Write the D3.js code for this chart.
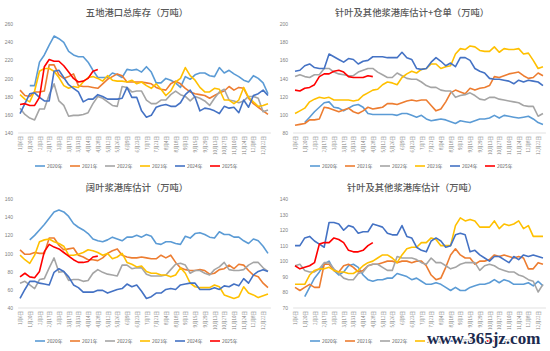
<!DOCTYPE html>
<html>
<head>
<meta charset="utf-8">
<script src="https://cdn.jsdelivr.net/npm/d3@7"></script>
<style>
  body { margin: 0; background: #fff; }
  svg { display: block; }
  text { font-family: "Noto Sans CJK SC", "Noto Sans", sans-serif; }
</style>
</head>
<body>
<div id="chart"></div>
<script>
// weekly dates, labels shown every 2 weeks
const dates = ["1月6日","1月13日","1月20日","1月27日","2月3日","2月10日","2月17日","2月24日","3月3日","3月10日",
  "3月17日","3月24日","3月31日","4月7日","4月14日","4月21日","4月28日","5月5日","5月12日","5月19日",
  "5月26日","6月2日","6月9日","6月16日","6月23日","6月30日","7月7日","7月14日","7月21日","7月28日",
  "8月4日","8月11日","8月18日","8月25日","9月1日","9月8日","9月15日","9月22日","9月29日","10月6日",
  "10月13日","10月20日","10月27日","11月3日","11月10日","11月17日","11月24日","12月1日","12月8日","12月15日",
  "12月22日","12月29日"];
const years = ["2020年","2021年","2022年","2023年","2024年","2025年"];
const colors = ["#5B9BD5","#ED7D31","#A5A5A5","#FFC000","#4472C4","#FF0000"];
const _ = null;

// 五地港口总库存
const totalInv2020 = [_,_,192,192,218,226,237,247,244,240,230,226,224,224,218,209,201,201,201,206,204,201,210,209,210,207,213,207,195,195,200,198,195,190,202,199,204,206,206,203,202,212,206,209,205,202,198,196,203,200,195,183];
const totalInv2021 = [187,181,180,185,185,186,215,215,204,200,202,205,192,191,191,190,189,194,199,202,205,203,196,196,196,196,195,194,190,188,187,194,197,194,189,185,183,182,181,178,181,184,186,191,187,190,189,178,172,168,164,160];
const totalInv2022 = [167,160,156,154,166,166,182,194,175,170,158,159,159,160,162,172,180,178,174,170,169,191,190,185,186,186,176,172,172,176,176,182,186,182,180,175,180,178,175,170,178,185,188,176,175,173,175,180,180,178,163,165];
const totalInv2023 = [182,177,174,186,208,211,211,208,201,192,189,191,190,196,201,202,200,197,203,198,197,197,196,198,194,196,192,189,194,188,181,186,196,200,212,203,198,190,185,185,189,188,176,176,172,176,190,179,174,169,170,172];
const totalInv2024 = [161,172,183,184,179,175,175,208,209,201,193,189,185,174,177,177,182,180,177,177,177,178,190,179,179,164,157,159,168,170,171,169,169,173,182,187,179,164,167,166,164,161,169,167,168,162,176,168,181,183,187,181];
const totalInv2025 = [171,172,170,170,179,213,221,219,219,214,207,200,196,197,200,208,210];

// 针叶及其他浆港库估计+仓单
const softWr2020 = [_,_,91,97,103,108,113,114,108,107,104,107,110,111,108,101,100,100,100,100,100,99,101,101,99,97,99,95,93,94,95,94,92,90,93,92,91,93,95,95,96,99,96,99,98,97,96,97,98,95,91,89];
const softWr2021 = [88,89,90,94,94,95,108,107,105,103,105,107,103,101,104,108,106,107,108,112,112,111,113,115,116,115,116,116,110,104,106,114,124,127,125,123,129,127,129,130,132,142,141,143,145,146,147,143,140,141,146,143];
const softWr2022 = [142,144,142,141,144,144,151,151,147,145,144,143,143,147,149,151,151,147,144,141,141,146,143,140,139,139,136,132,130,130,127,126,126,119,121,122,124,121,117,116,119,119,117,116,115,114,113,110,109,109,98,101];
const softWr2023 = [101,104,107,114,117,119,118,119,116,116,116,116,115,116,121,124,127,128,133,136,135,133,141,145,148,146,150,151,156,156,151,153,154,167,173,172,176,175,171,170,170,175,169,173,172,172,173,167,168,160,151,153];
const softWr2024 = [148,149,154,156,152,151,151,167,164,161,158,162,161,156,159,160,164,164,164,163,163,163,169,163,161,151,150,151,158,163,159,154,157,153,163,163,160,151,148,146,140,139,139,138,137,134,138,136,138,137,136,132];
const softWr2025 = [127,126,129,130,133,142,145,145,148,149,147,142,141,141,141,143,142];

// 阔叶浆港库估计
const hardInv2020 = [_,_,115,120,126,132,139,146,148,146,141,133,129,126,122,116,114,113,115,118,116,114,118,118,120,118,121,119,111,110,113,113,111,110,119,117,122,123,121,118,117,124,121,121,118,118,114,111,116,114,108,100];
const hardInv2021 = [104,99,99,101,100,100,117,117,109,104,105,106,98,96,93,93,92,95,100,103,105,98,96,95,95,96,95,94,94,98,95,98,90,84,82,81,81,82,81,77,78,82,83,87,83,88,87,81,76,74,67,62];
const hardInv2022 = [67,69,65,61,71,72,84,95,79,80,70,71,71,69,70,78,82,79,77,76,75,87,87,83,84,84,77,75,75,75,76,82,88,89,87,78,81,81,78,76,82,85,90,82,81,81,82,87,90,90,84,80];
const hardInv2023 = [98,93,89,98,113,115,116,113,111,108,98,98,99,101,104,103,101,98,100,94,96,100,90,88,85,86,80,78,78,76,76,74,76,84,78,67,63,62,62,62,65,63,54,52,50,52,63,56,54,51,53,55];
const hardInv2024 = [50,60,69,69,67,66,65,79,83,80,74,65,62,57,57,57,59,59,56,58,60,61,66,63,65,58,50,52,56,56,60,61,60,65,66,67,67,60,60,60,62,60,64,63,66,64,72,67,76,80,82,80];
const hardInv2025 = [74,78,74,73,80,102,110,107,105,101,97,93,90,90,91,96,97];

// 针叶及其他浆港库估计
const softInv2020 = [_,_,77,83,89,93,98,100,94,91,93,97,98,96,91,88,87,88,88,89,89,92,91,90,88,89,87,85,85,86,85,83,81,83,81,81,83,84,85,85,86,88,86,88,87,85,85,85,86,84,87,84];
const softInv2021 = [83,81,83,85,83,83,98,98,94,93,97,98,96,93,94,97,98,98,99,100,100,99,100,100,99,100,100,97,91,88,89,96,104,108,104,102,102,98,100,100,101,104,103,104,103,102,103,102,95,95,99,98];
const softInv2022 = [97,98,94,93,93,95,99,99,95,92,89,88,88,92,93,97,98,98,96,94,94,103,102,102,102,101,99,98,102,99,99,97,95,96,98,99,99,99,94,97,98,97,95,94,93,93,91,90,88,87,80,85];
const softInv2023 = [85,85,85,91,94,95,95,96,94,93,93,92,92,94,97,99,100,102,104,104,102,99,104,108,109,109,112,112,115,114,110,110,110,123,128,126,127,126,122,122,122,126,121,124,123,124,126,121,123,116,116,116];
const softInv2024 = [110,110,115,116,113,111,109,125,125,124,120,123,122,118,119,119,124,123,122,118,117,117,123,116,115,109,107,106,113,115,113,109,110,117,118,117,106,107,104,102,100,103,103,101,99,103,101,104,103,104,103,102];
const softInv2025 = [97,95,96,97,99,111,112,112,115,114,112,107,106,106,107,110,112];

const ticks1 = [140,160,180,200,220,240,260];
const ticks2 = [80,100,120,140,160,180,200];
const ticks3 = [40,60,80,100,120,140,160];
const ticks4 = [70,80,90,100,110,120,130,140];

const panels = [
  { title: "五地港口总库存（万吨）", ticks: ticks1,
    series: [totalInv2020,totalInv2021,totalInv2022,totalInv2023,totalInv2024,totalInv2025] },
  { title: "针叶及其他浆港库估计+仓单（万吨）", ticks: ticks2,
    series: [softWr2020,softWr2021,softWr2022,softWr2023,softWr2024,softWr2025] },
  { title: "阔叶浆港库估计（万吨）", ticks: ticks3,
    series: [hardInv2020,hardInv2021,hardInv2022,hardInv2023,hardInv2024,hardInv2025] },
  { title: "针叶及其他浆港库估计（万吨）", ticks: ticks4,
    series: [softInv2020,softInv2021,softInv2022,softInv2023,softInv2024,softInv2025] }
];

const svg = d3.select("#chart").append("svg")
  .attr("width", 550)
  .attr("height", 351);

const pw = 275, ph = 175;

panels.forEach((p, k) => {
  const g = svg.append("g")
    .attr("transform", `translate(${(k % 2) * pw},${Math.floor(k / 2) * ph})`);

  const x = d3.scalePoint().domain(dates).range([17.6, 270.4]).padding(0.5);
  const y = d3.scaleLinear().domain(d3.extent(p.ticks)).range([132.5, 24.3]);

  // title
  g.append("text")
    .attr("x", 137).attr("y", 15.5)
    .attr("text-anchor", "middle")
    .attr("font-size", 9.3)
    .attr("font-weight", 500)
    .attr("fill", "#595959")
    .text(p.title);

  // y axis
  g.append("g")
    .attr("transform", "translate(16,0)")
    .call(d3.axisLeft(y).tickValues(p.ticks).tickSize(0).tickPadding(3))
    .call(a => a.select(".domain").remove())
    .selectAll("text")
    .attr("font-size", 5)
    .attr("fill", "#7f7f7f")
    .style("font-family", "Liberation Sans, Arial, sans-serif");

  // x axis
  const xa = g.append("g")
    .attr("transform", "translate(0,132.5)")
    .call(d3.axisBottom(x).tickValues(dates.filter((d, i) => i % 2 === 0)).tickSize(0).tickSizeOuter(0));
  xa.select(".domain").attr("stroke", "#d9d9d9").attr("stroke-width", 0.8);
  xa.selectAll("text")
    .attr("transform", "rotate(-90)")
    .attr("x", -3.5).attr("y", 0).attr("dy", "0.35em")
    .attr("text-anchor", "end")
    .attr("font-size", 4.5)
    .attr("fill", "#7f7f7f");

  // lines
  const line = d3.line()
    .defined(d => d != null)
    .x((d, i) => x(dates[i]))
    .y(d => y(d));

  g.selectAll(".series")
    .data(p.series)
    .enter()
    .append("path")
    .attr("fill", "none")
    .attr("stroke", (d, i) => colors[i])
    .attr("stroke-width", 1.6)
    .attr("stroke-linejoin", "round")
    .attr("d", d => line(d));

  // legend
  const lg = g.append("g").attr("transform", "translate(0,166)");
  years.forEach((yr, i) => {
    lg.append("line")
      .attr("x1", 35 + i * 35).attr("x2", 45 + i * 35)
      .attr("y1", 0).attr("y2", 0)
      .attr("stroke", colors[i]).attr("stroke-width", 1.6);
    lg.append("text")
      .attr("x", 47 + i * 35).attr("y", 0).attr("dy", "0.35em")
      .attr("font-size", 4.8)
      .attr("fill", "#595959")
      .text(yr);
  });
});

// watermark
svg.append("text")
  .attr("x", 427).attr("y", 344)
  .attr("font-size", 17)
  .attr("font-weight", "bold")
  .style("font-family", "Liberation Serif, serif")
  .attr("fill", "#1b2a4e")
  .attr("stroke", "#fff")
  .attr("stroke-width", 2)
  .attr("paint-order", "stroke")
  .text("www.365jz.com");
</script>
</body>
</html>
